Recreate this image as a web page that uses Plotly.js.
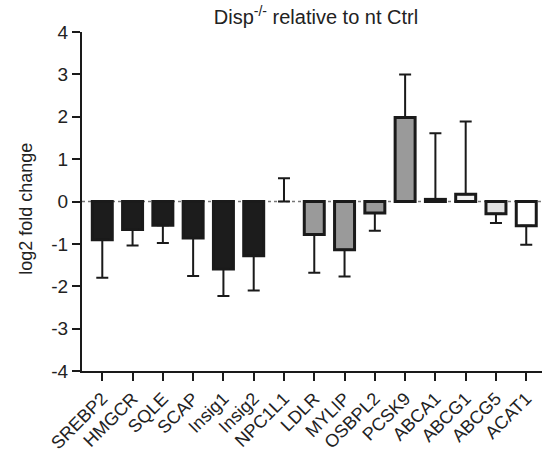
<!DOCTYPE html>
<html>
<head>
<meta charset="utf-8">
<script src="https://cdn.plot.ly/plotly-3.0.1.min.js"></script>
<style>html,body{margin:0;padding:0;background:#fff;}#chart{width:542px;height:453px;}</style>
</head>
<body>
<div id="chart"></div>
<script>
var genes = ["SREBP2","HMGCR","SQLE","SCAP","Insig1","Insig2","NPC1L1","LDLR","MYLIP","OSBPL2","PCSK9","ABCA1","ABCG1","ABCG5","ACAT1"];
var log2fc = [-0.90,-0.66,-0.56,-0.86,-1.59,-1.28,0.0,-0.78,-1.14,-0.27,1.98,0.05,0.17,-0.29,-0.57];
var errUp = [0,0,0,0,0,0,0.55,0,0,0,1.02,1.56,1.72,0,0];
var errDown = [0.90,0.38,0.42,0.90,0.64,0.82,0,0.90,0.63,0.42,0,0,0,0.22,0.45];
var fillColors = ["#1c1c1c","#1c1c1c","#1c1c1c","#1c1c1c","#1c1c1c","#1c1c1c","#1c1c1c","#9a9a9a","#9a9a9a","#9a9a9a","#9a9a9a","#2a2a2a","#f2f2f2","#e2e2e2","#ffffff"];
var yTickVals = [-4,-3,-2,-1,0,1,2,3,4];
var yTickText = ["-4","-3","-2","-1","0","1","2","3","4"];
var titleText = "Disp<sup>-/-</sup> relative to nt Ctrl";
var yTitleText = "log2 fold change";

var lineWidths = log2fc.map(function(v){ return v === 0 ? 0 : 3; });

var trace = {
  type: "bar",
  x: genes,
  y: log2fc,
  width: 0.66,
  marker: {color: fillColors, line: {color: "#1a1a1a", width: lineWidths}},
  error_y: {type: "data", symmetric: false, array: errUp, arrayminus: errDown,
            color: "#1a1a1a", thickness: 2, width: 6},
  hoverinfo: "x+y"
};

var layout = {
  width: 542, height: 453,
  margin: {l: 82, r: 0, t: 32, b: 82},
  paper_bgcolor: "#fff", plot_bgcolor: "#fff",
  showlegend: false,
  font: {family: "Liberation Sans, Arial, Helvetica, sans-serif", color: "#222", size: 18},
  title: {text: titleText, x: 0.583, xanchor: "center", y: 0.962, yanchor: "middle",
          font: {size: 20, color: "#222"}},
  xaxis: {
    range: [-0.67, 14.52], showgrid: false, zeroline: false,
    showline: true, linecolor: "#1a1a1a", linewidth: 2,
    ticks: "outside", ticklen: 8, tickwidth: 2, tickcolor: "#1a1a1a",
    tickangle: -45, tickfont: {size: 18}, automargin: false, fixedrange: true
  },
  yaxis: {
    range: [-4, 4], tickmode: "array", tickvals: yTickVals, ticktext: yTickText,
    showgrid: false, zeroline: false,
    showline: true, linecolor: "#1a1a1a", linewidth: 2,
    ticks: "outside", ticklen: 8, tickwidth: 2, tickcolor: "#1a1a1a",
    tickfont: {size: 19}, automargin: false, fixedrange: true
  },
  annotations: [{text: yTitleText, xref: "paper", yref: "paper", x: -0.122, y: 0.478,
                 xanchor: "center", yanchor: "middle", textangle: -90, showarrow: false,
                 font: {size: 18, color: "#222"}}],
  shapes: [{type: "line", xref: "paper", x0: 0, x1: 1, yref: "y", y0: 0, y1: 0,
            line: {color: "#777", width: 1.5, dash: "dot"}, layer: "below"}]
};

Plotly.newPlot("chart", [trace], layout, {displayModeBar: false, staticPlot: true});
</script>
</body>
</html>
